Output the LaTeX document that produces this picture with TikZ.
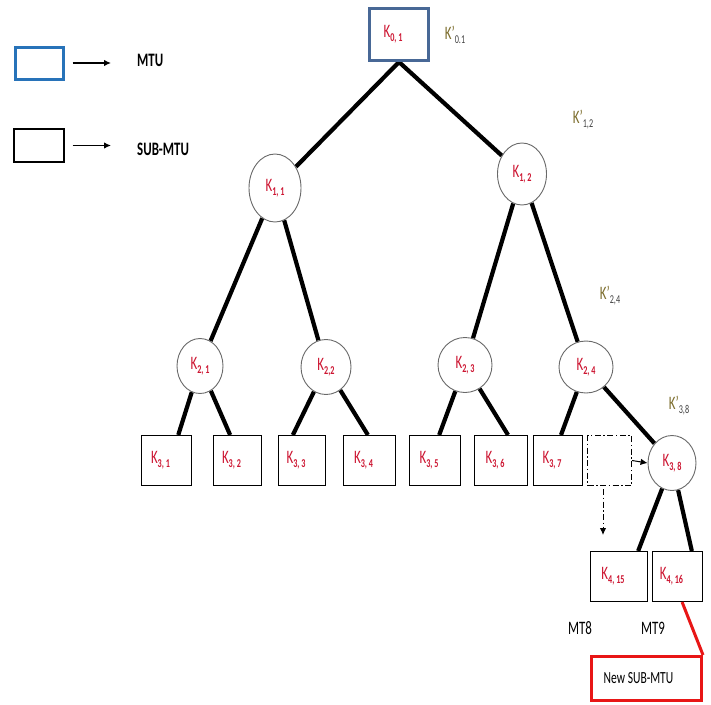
\documentclass[tikz,border=0pt]{standalone}
\usepackage{fontspec}
\setmainfont{Carlito}
\usetikzlibrary{arrows.meta,shapes.geometric,calc,backgrounds}

\definecolor{kred}{RGB}{205,22,50}
\definecolor{kolive}{RGB}{125,110,45}
\definecolor{rootblue}{RGB}{72,104,150}
\definecolor{legblue}{RGB}{40,115,185}
\definecolor{ringgray}{RGB}{105,105,105}
\definecolor{newred}{RGB}{232,22,22}

% condensed text, as the drawing's labels are set
\newcommand\narrow[1]{\scalebox{0.68}[1]{#1}}
% key label K_{i,j}
\newcommand\kl[1]{\narrow{\fontsize{19}{19}\selectfont\color{kred}K\raisebox{-0.45ex}{\fontsize{12}{12}\selectfont\bfseries #1}}}
% key label inside a box, sitting a little left of centre
\newcommand\kb[1]{\kl{#1}\hspace*{12pt}}
% derived key label K'_{i,j}
\newcommand\kp[1]{\narrow{\fontsize{19}{19}\selectfont\color{kolive}K’\raisebox{-0.45ex}{\fontsize{12}{12}\selectfont\color{black!75}#1}}}
\newcommand\plain[2]{\narrow{\fontsize{#1}{#1}\selectfont #2}}

\begin{document}
\begin{tikzpicture}[x=1pt,y=-1pt,
  keynode/.style={ellipse, draw=ringgray, line width=0.9pt, inner sep=0pt, fill=white},
  leafbox/.style={rectangle, draw=black, line width=1.1pt, inner sep=0pt, minimum height=50pt},
  treeedge/.style={line width=4.2pt, black},
  tip/.style={-{Latex[length=7pt,width=6.5pt]}},
  plaintext/.style={inner sep=0pt}
]
\useasboundingbox (0,0) rectangle (711,704);

% ---- legend ----
\node[rectangle, draw=legblue, line width=3pt, minimum width=48pt, minimum height=32pt] (legM) at (39,63) {};
\node[rectangle, draw=black, line width=1.1pt, minimum width=50pt, minimum height=33pt] (legS) at (39,145.5) {};
\node[plaintext, anchor=west] (legMt) at (137,60) {\plain{19}{\bfseries MTU}};
\node[plaintext, anchor=west] (legSt) at (137,149) {\plain{19}{\bfseries SUB-MTU}};
\draw[line width=1.3pt, tip, shorten <=8pt, shorten >=26pt] (legM.east) -- (legM.east -| legMt.west);
\draw[line width=1.3pt, tip, shorten <=8pt, shorten >=26pt] (legS.east) -- (legS.east -| legSt.west);

% ---- root (MTU) ----
\node[rectangle, draw=rootblue, line width=3pt, fill=white, minimum width=59pt, minimum height=52pt, inner sep=0pt] (K01) at (399,34.5) {\kb{0, 1}};

% ---- inner keys ----
\node[keynode, minimum width=52pt, minimum height=68pt] (K11) at (275,188) {\kl{1, 1}};
\node[keynode, minimum width=49pt, minimum height=62pt] (K12) at (522,174) {\kl{1, 2}};
\node[keynode, minimum width=46pt, minimum height=55pt] (K21) at (200,366) {\kl{2, 1}};
\node[keynode, minimum width=50pt, minimum height=55pt] (K22) at (326,367) {\kl{2,2}};
\node[keynode, minimum width=54pt, minimum height=55pt] (K23) at (465,365) {\kl{2, 3}};
\node[keynode, minimum width=54pt, minimum height=52pt] (K24) at (586,367) {\kl{2, 4}};
\node[keynode, minimum width=48pt, minimum height=55pt] (K38) at (672,463) {\kl{3, 8}};

% ---- leaves (SUB-MTU) ----
\node[leafbox, minimum width=50pt] (K31) at (166.5,460.5) {\kb{3, 1}};
\node[leafbox, minimum width=48pt] (K32) at (237.5,460.5) {\kb{3, 2}};
\node[leafbox, minimum width=47pt] (K33) at (302,460.5) {\kb{3, 3}};
\node[leafbox, minimum width=52pt] (K34) at (369.5,460.5) {\kb{3, 4}};
\node[leafbox, minimum width=51pt] (K35) at (435,460.5) {\kb{3, 5}};
\node[leafbox, minimum width=53pt] (K36) at (501,460.5) {\kb{3, 6}};
\node[leafbox, minimum width=49pt] (K37) at (558,460.5) {\kb{3, 7}};
\node[rectangle, draw=black, line width=1pt, dash pattern=on 6pt off 2.5pt on 1.5pt off 2.5pt,
      minimum width=44pt, minimum height=50pt, inner sep=0pt] (gap) at (609.5,460.5) {};
\node[leafbox, minimum width=57pt] (K415) at (619,576.5) {\kb{4, 15}};
\node[leafbox, minimum width=50pt] (K416) at (677.5,576.5) {\kb{4, 16}};

% ---- new SUB-MTU ----
\node[rectangle, draw=newred, line width=3pt, minimum width=110pt, minimum height=44pt, inner sep=0pt] (newsub) at (646.5,678.5)
  {\plain{17}{New SUB-MTU}\hspace*{16pt}};

% ---- derived key labels and unit names ----
\node[plaintext] (kp01) at (455,35) {\kp{0.1}};
\node[plaintext] (kp12) at (583,120) {\kp{1,2}};
\node[plaintext] (kp24) at (610,296) {\kp{2,4}};
\node[plaintext] (kp38) at (679,406) {\kp{3,8}};
\node[plaintext] (mt8) at (580,628) {\plain{19}{MT8}};
\node[plaintext] (mt9) at (653,628) {\plain{19}{MT9}};

% ---- connectors ----
\begin{scope}[on background layer]
  \fill[white] (0,0) rectangle (711,704);
  \draw[treeedge] (K01.south) -- (K11);
  \draw[treeedge] (K01.south) -- (K12);
  \draw[treeedge] (K11) -- (K21);
  \draw[treeedge] (K11) -- (K22);
  \draw[treeedge] (K12) -- (K23);
  \draw[treeedge] (K12) -- (K24);
  \draw[treeedge] (K21) -- ($(K31.north west)!0.73!(K31.north east)$);
  \draw[treeedge] (K21) -- ($(K32.north west)!0.35!(K32.north east)$);
  \draw[treeedge] (K22) -- ($(K33.north west)!0.31!(K33.north east)$);
  \draw[treeedge] (K22) -- ($(K34.north west)!0.47!(K34.north east)$);
  \draw[treeedge] (K23) -- ($(K35.north west)!0.58!(K35.north east)$);
  \draw[treeedge] (K23) -- ($(K36.north west)!0.63!(K36.north east)$);
  \draw[treeedge] (K24) -- ($(K37.north west)!0.56!(K37.north east)$);
  \draw[treeedge] (K24) -- (K38);
  \draw[treeedge] (K38) -- ($(K415.north west)!0.83!(K415.north east)$);
  \draw[treeedge] (K38) -- ($(K416.north west)!0.78!(K416.north east)$);
\end{scope}

\draw[line width=1pt, tip] (gap.east) -- (K38.west);
\coordinate (drop) at (603,535);
\draw[line width=1pt, tip, dash pattern=on 6pt off 2.5pt on 1.5pt off 2.5pt] (gap.south -| drop) ++(0,3) -- (drop);
\draw[newred, line width=3pt] ($(K416.south west)!0.59!(K416.south east)$) -- (newsub.north east);
\end{tikzpicture}
\end{document}
